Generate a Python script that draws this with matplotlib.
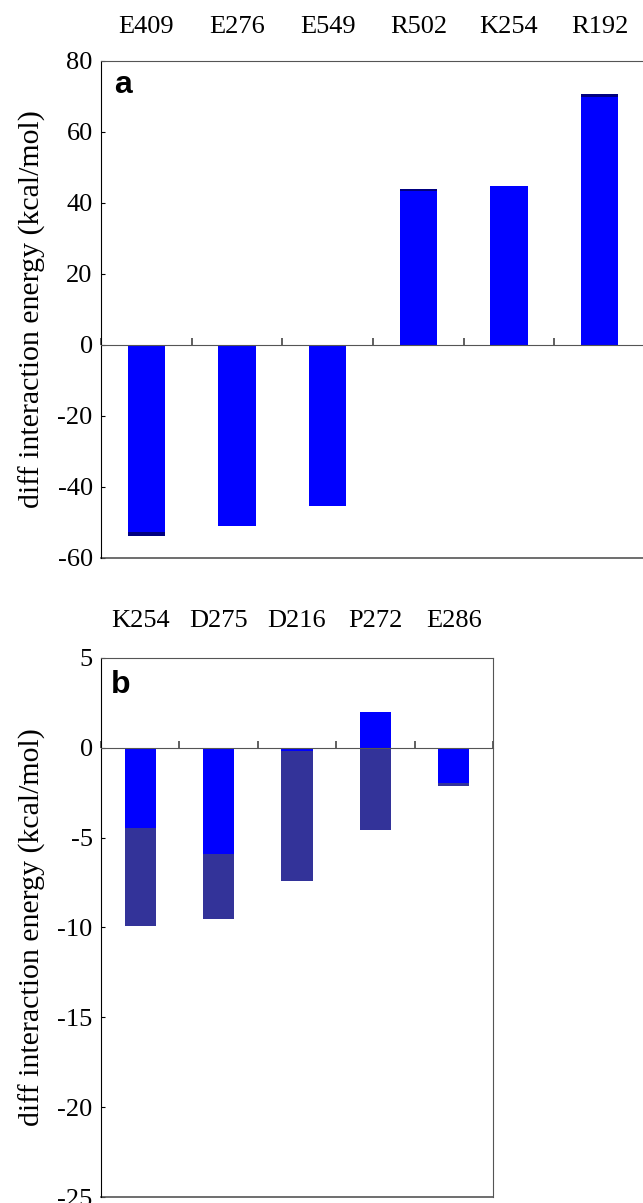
import matplotlib
matplotlib.use("Agg")
import matplotlib.pyplot as plt
import numpy as np

# panel a values (kcal/mol)
labels_a = ["E409", "E276", "E549", "R502", "K254", "R192"]
blue_a = [-52.8, -50.9, -45.3, 43.2, 44.6, 69.7]
dark_a = [-53.7, -50.0, -44.5, 43.8, -0.4, 70.5]
yticks_a = [-60, -40, -20, 0, 20, 40, 60, 80]

# panel b values (kcal/mol)
labels_b = ["K254", "D275", "D216", "P272", "E286"]
blue_b = [-4.45, -5.9, -0.15, 2.0, -1.95]
dark_b = [-9.9, -9.5, -7.4, -4.6, -2.1]
yticks_b = [-25, -20, -15, -10, -5, 0, 5]

plt.rcParams['font.family'] = ['Liberation Serif', 'DejaVu Serif']

W, H = 643, 1203
fig = plt.figure(figsize=(W / 100, H / 100), dpi=100)


def px_axes(left, right, top, bottom):
    return fig.add_axes([left / W, 1 - bottom / H, (right - left) / W, (bottom - top) / H])


def panel(ax, labels, blue, dark, yticks, dark_color, width, letter, top_pad, ylab_x):
    x = np.arange(len(labels))
    ax.bar(x, dark, width=width, color=dark_color, zorder=2)
    ax.bar(x, blue, width=width, color="#0000ff", zorder=3)
    ax.set_xlim(-0.5, len(labels) - 0.5)
    ax.set_ylim(yticks[0], yticks[-1])
    ax.set_yticks(yticks)
    ax.set_yticklabels([str(t) for t in yticks])
    ax.tick_params(axis='y', direction='in', length=3, labelsize=19, pad=6)

    # category axis crosses at zero, ticks between categories
    ax.spines['bottom'].set_position(('data', 0))
    ax.spines['bottom'].set_color('#555555')
    ax.spines['bottom'].set_zorder(4)
    ax.set_xticks(np.arange(len(labels) + 1) - 0.5)
    ax.tick_params(axis='x', direction='in', length=5, width=1.2, color='#444444',
                   labelbottom=False)
    for s in ['top', 'right']:
        ax.spines[s].set_color('#555555')
    ax.spines['left'].set_color('black')
    ax.plot([0, 1], [0, 0], transform=ax.transAxes, color='#555555',
            lw=1.2, clip_on=False)

    top = ax.secondary_xaxis('top')
    top.set_xticks(x)
    top.set_xticklabels(labels)
    top.tick_params(length=0, labelsize=19, pad=top_pad)
    top.spines['top'].set_visible(False)

    ax.set_ylabel("diff interaction energy (kcal/mol)", fontsize=21.5)
    ax.yaxis.set_label_coords(ylab_x, 0.5)
    ax.text(0.025, 0.935, letter, transform=ax.transAxes, fontsize=23,
            fontweight='bold', family='Liberation Sans', ha='left', va='baseline')


ax_a = px_axes(101, 645, 60.5, 558)
panel(ax_a, labels_a, blue_a, dark_a, yticks_a, "#000080", 0.41, "a", 16, -0.101)

ax_b = px_axes(101, 493, 658, 1197)
panel(ax_b, labels_b, blue_b, dark_b, yticks_b, "#333399", 0.40, "b", 19, -0.140)

fig.savefig("out.png", dpi=100)
